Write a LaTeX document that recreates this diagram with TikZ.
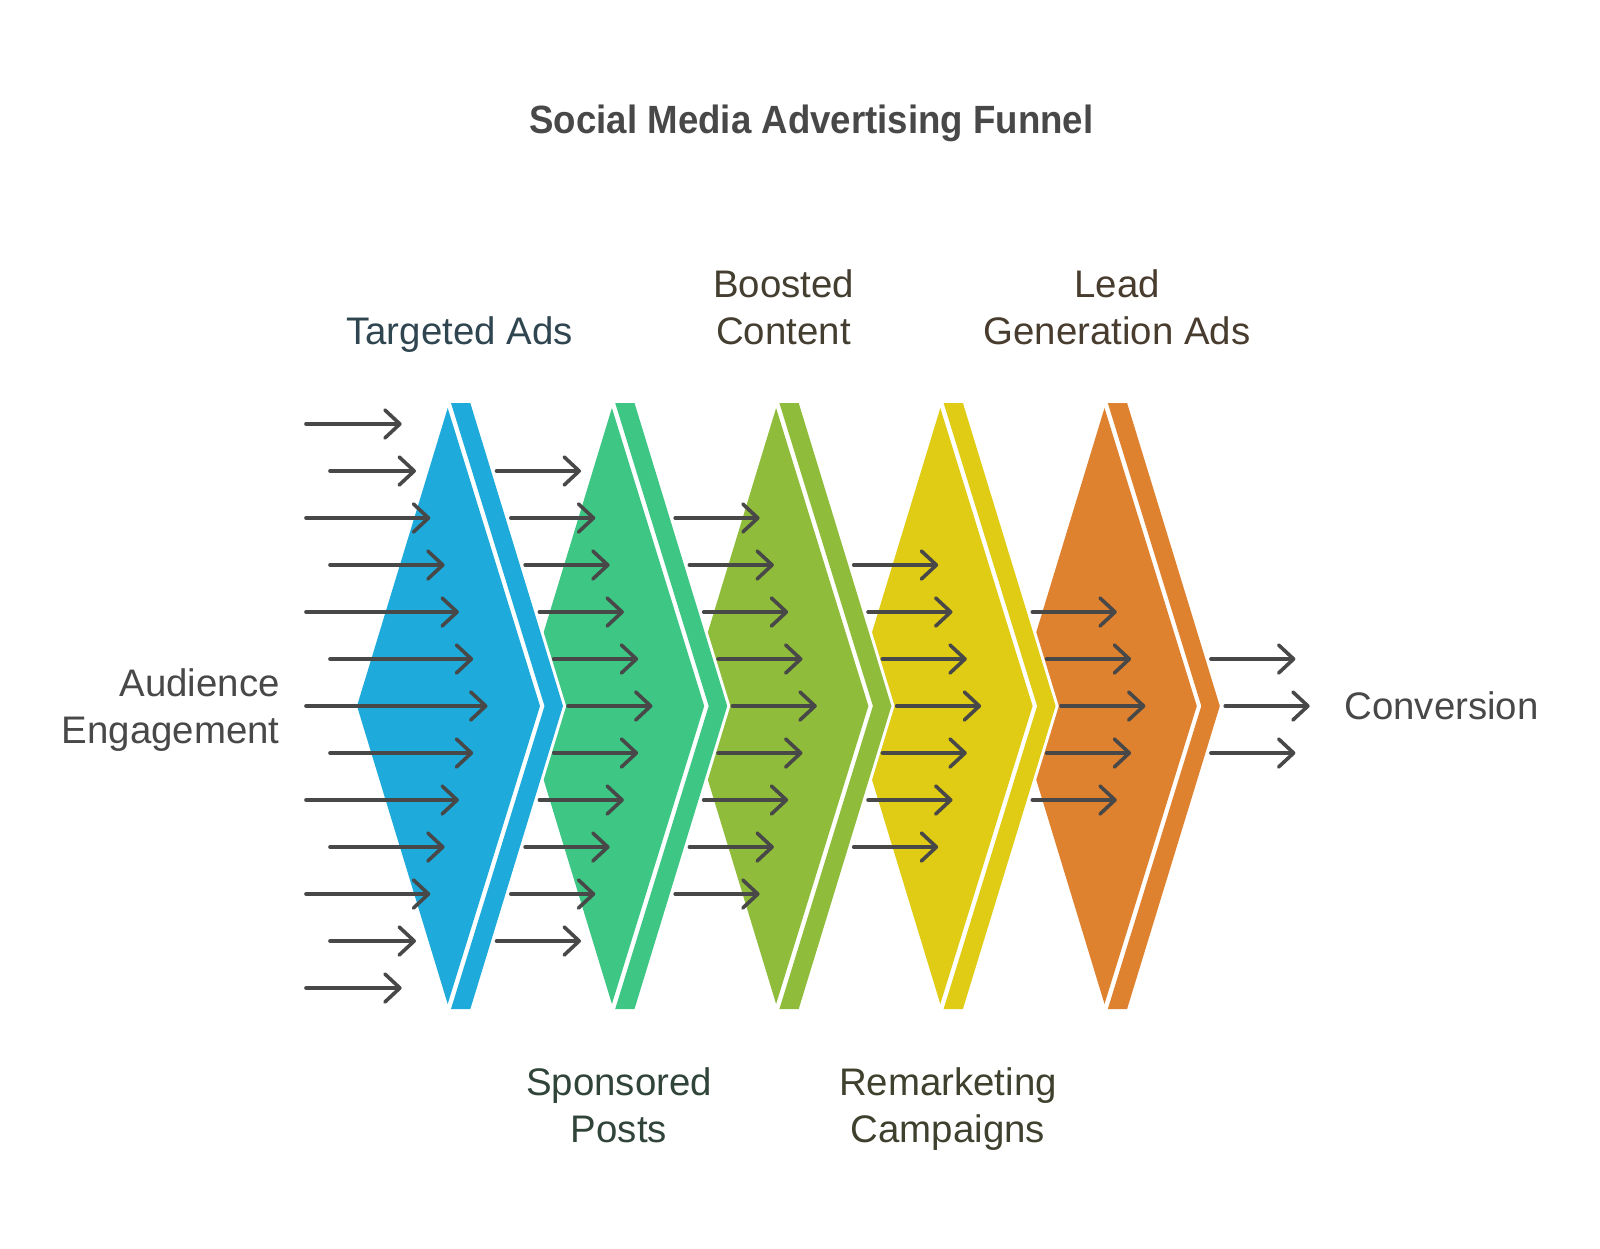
\documentclass[tikz,border=0pt]{standalone}
\usepackage{fontspec}
\usepackage{tikz}
\usetikzlibrary{arrows.meta}
\setmainfont{Liberation Sans}
\newfontfamily\titlefont[FakeStretch=0.93]{Liberation Sans}

\definecolor{inkgray}{HTML}{484848}
\definecolor{adblue}{HTML}{1EAADB}
\definecolor{adgreen}{HTML}{3EC685}
\definecolor{adolive}{HTML}{8FBC3A}
\definecolor{adyellow}{HTML}{E0CC14}
\definecolor{adorange}{HTML}{DF8230}
\definecolor{txtblue}{HTML}{2F4550}
\definecolor{txtgreen}{HTML}{30443A}
\definecolor{txtolive}{HTML}{443E30}
\definecolor{txtyellow}{HTML}{40402E}
\definecolor{txtorange}{HTML}{483C2E}

\tikzset{
  flowarrow/.style={draw=inkgray,line width=1.8pt,line cap=round,-{Straight Barb[length=7.5pt,width=14pt,round]}},
  backing/.style={fill=white,draw=white,line width=3pt,line join=miter},
  label/.style={text=#1,font=\fontsize{19.2}{23.5}\selectfont,align=center,inner sep=0pt},
}

\begin{document}
\begin{tikzpicture}[x=0.5pt,y=-0.5pt]

        \useasboundingbox (0,0) rectangle (1600,1248);

        % chevrons, last one first so that each lies over the next
        \foreach \i/\col in {4/adorange,3/adyellow,2/adolive,1/adgreen,0/adblue}{
            \begin{scope}[xshift={\i*82.1pt}]
            \coordinate (m1\i) at (447.7,408);
            \coordinate (m2\i) at (540,706);
            \coordinate (m3\i) at (447.7,1004);
            \coordinate (m4\i) at (357,706);
            \coordinate (s1\i) at (451,403);
            \coordinate (s2\i) at (470.3,403);
            \coordinate (s3\i) at (563,706);
            \coordinate (s4\i) at (470.3,1009);
            \coordinate (s5\i) at (451,1009);
            \coordinate (s6\i) at (544.5,706);
            \draw[backing] (m4\i) -- (m1\i) -- (s1\i) -- (s2\i) -- (s3\i) -- (s4\i) -- (s5\i) -- (m3\i) -- cycle;
            \fill[\col] (m1\i) -- (m2\i) -- (m3\i) -- (m4\i) -- cycle;
            \fill[\col] (s1\i) -- (s2\i) -- (s3\i) -- (s4\i) -- (s5\i) -- (s6\i) -- cycle;
            \end{scope}
        }

        % arrows in front of the first chevron
        \foreach \k in {-6,...,6}{
            \pgfmathsetmacro{\startx}{isodd(\k) ? 330 : 306}
            \pgfmathsetmacro{\tipx}{487.5-14.3*abs(\k)}
            \coordinate (a0\k) at (\startx,706+47*\k);
            \coordinate (b0\k) at (\tipx,706+47*\k);
            \draw[flowarrow] (a0\k) -- (b0\k);
        }

        % arrows behind each chevron
        \foreach \c in {1,...,5}{
            \pgfmathtruncatemacro{\kmax}{6-\c}
            \foreach \k in {-\kmax,...,\kmax}{
                \pgfmathsetmacro{\startx}{568+164.3*(\c-1)-14.3*abs(\k)}
                \coordinate (a\c\k) at (\startx,706+47*\k);
                \coordinate (b\c\k) at (\startx+84.5,706+47*\k);
                \draw[flowarrow] (a\c\k) -- (b\c\k);
            }
        }

        % Labels
        \node[label=inkgray,font=\fontsize{19.7}{23}\titlefont\bfseries] (title) at (811.5,123) {Social Media Advertising Funnel};
        \node[label=inkgray,align=right,anchor=east] (audience) at (280,710) {Audience\\Engagement};
        \node[label=inkgray,anchor=west] (conversion) at (1344,706) {Conversion};
        \node[label=txtblue] (targeted) at (459.5,335) {Targeted Ads};
        \node[label=txtolive] (boosted) at (783.5,307) {Boosted\\Content};
        \node[label=txtorange] (lead) at (1117,307) {Lead\\Generation Ads};
        \node[label=txtgreen] (sponsored) at (619,1105) {Sponsored\\Posts};
        \node[label=txtyellow] (remarketing) at (948,1109) {Remarketing\\Campaigns};

\end{tikzpicture}
\end{document}
